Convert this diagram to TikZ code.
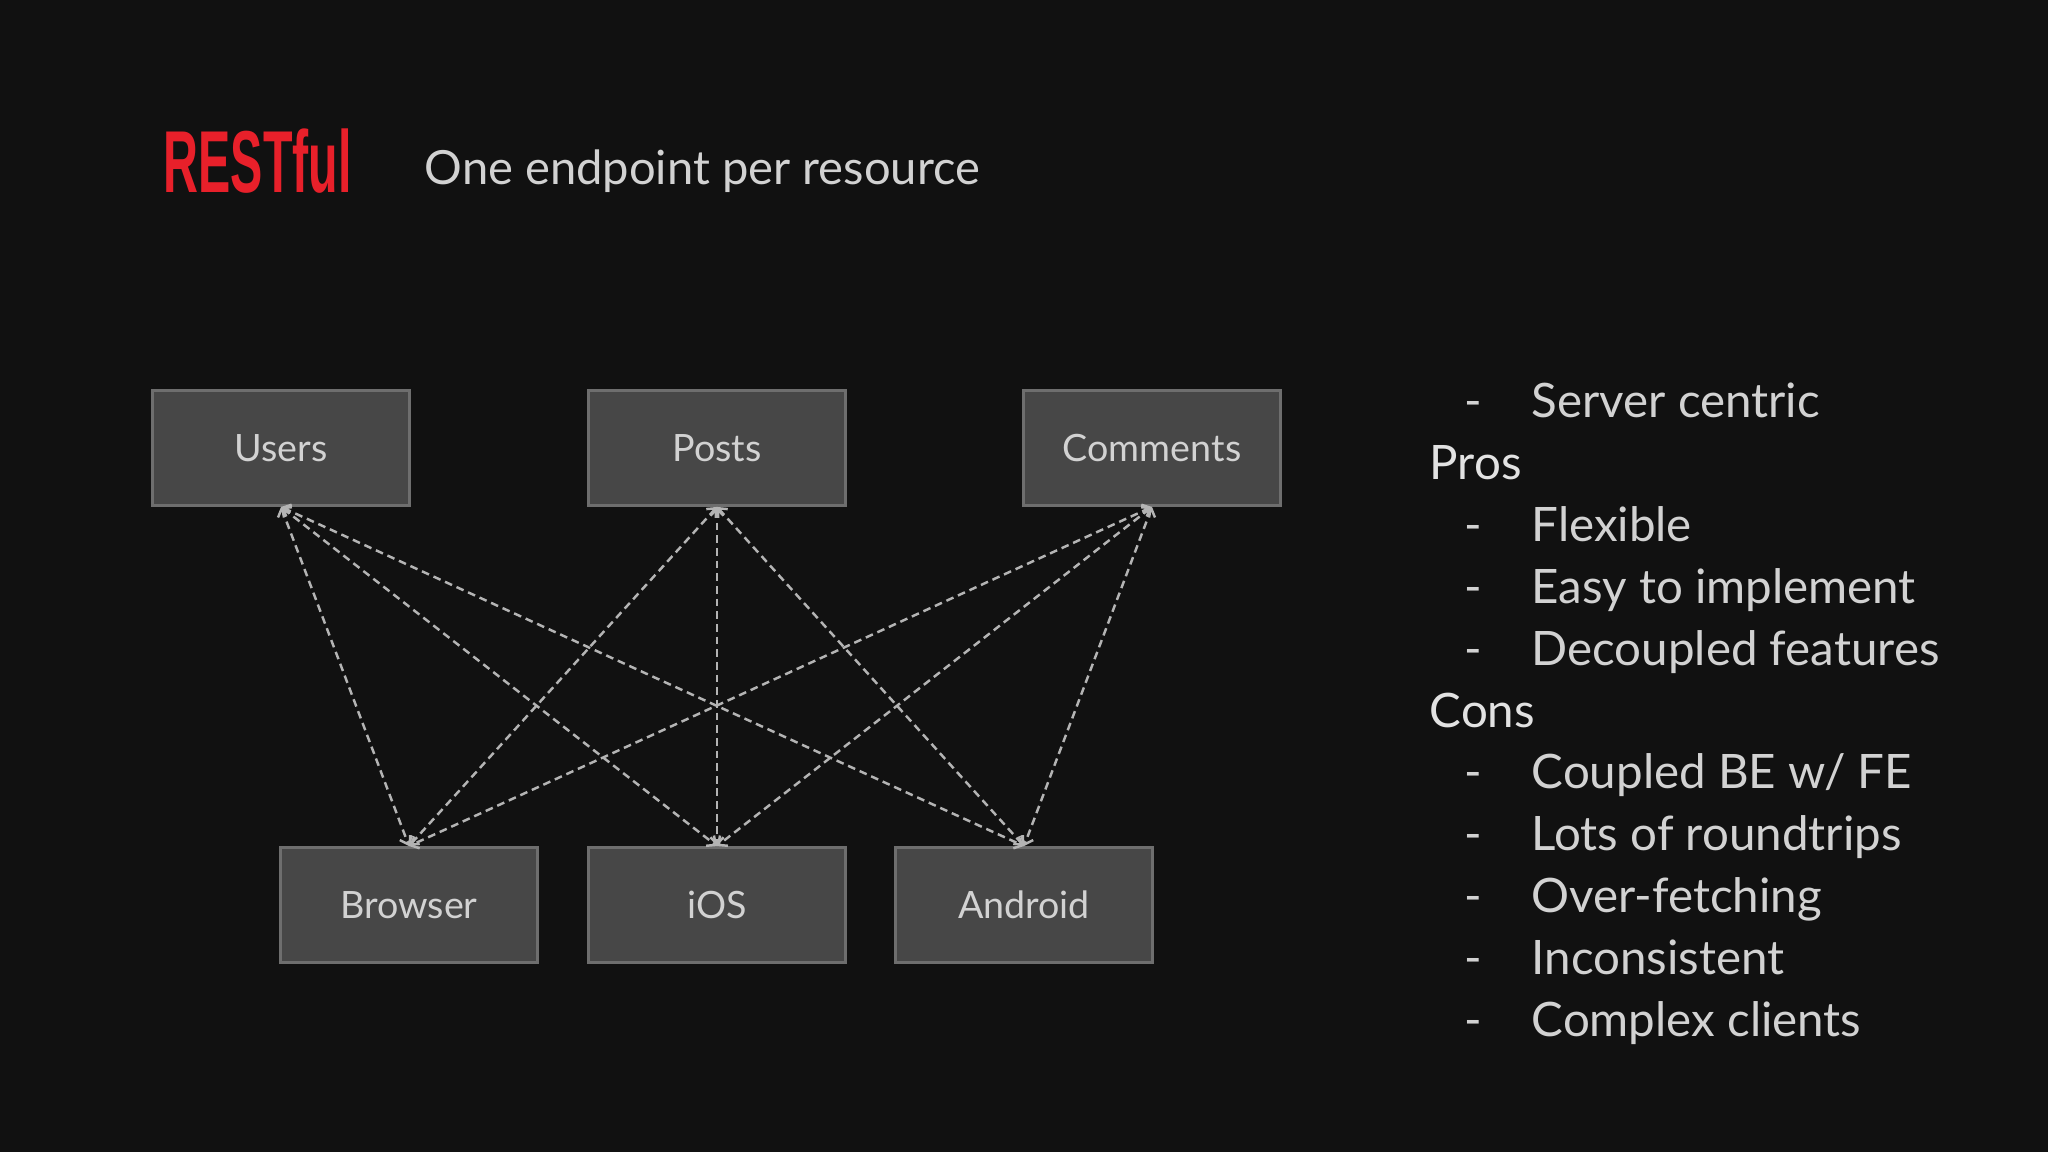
\documentclass[tikz,border=0pt]{standalone}
\usepackage{fontspec}
\setmainfont{Lato}
\newfontfamily\headfont{Liberation Sans}
\usetikzlibrary{arrows.meta}

\definecolor{bgdark}{HTML}{111111}
\definecolor{boxfill}{HTML}{474747}
\definecolor{boxline}{HTML}{6E6E6E}
\definecolor{linkgray}{HTML}{B4B4B4}
\definecolor{restred}{HTML}{E8202A}
\definecolor{softgray}{HTML}{D2D2D2}
\definecolor{headgray}{HTML}{E2E2E2}

\begin{document}
\begin{tikzpicture}
[
	x=0.01cm, y=-0.01cm,
	box/.style={draw=boxline,fill=boxfill,line width=0.8pt,inner sep=0pt,minimum width=2.57cm,minimum height=1.15cm,text=softgray,font=\fontsize{10.7}{12}\selectfont},
	link/.style={draw=linkgray,line width=0.7pt,dash pattern=on 2.2pt off 1.4pt,{Straight Barb[length=0.7mm,width=1.3mm]}-{Straight Barb[length=0.7mm,width=1.3mm]}},
	itemtxt/.style={anchor=base west,text=softgray,inner sep=0pt,font=\fontsize{13.5}{16}\selectfont}
]

	% background
	\fill[bgdark] (0,0) rectangle (2048,1152);
	\useasboundingbox (0,0) rectangle (2048,1152);

	% title
	\node[anchor=base west,inner sep=0pt,text=restred] (title) at (163,193)
		{\scalebox{0.55}[1]{\headfont\bfseries\fontsize{25}{25}\selectfont RESTful}};
	\node[anchor=base west,inner sep=0pt,text=softgray,font=\fontsize{13.4}{16}\selectfont] (sub) at (424,185) {One endpoint per resource};

	% resources
	\node[box] (users) at (281,448) {Users};
	\node[box] (posts) at (717,448) {Posts};
	\node[box] (comments) at (1152,448) {Comments};

	% clients
	\node[box] (browser) at (409,905) {Browser};
	\node[box] (ios) at (717,905) {iOS};
	\node[box] (android) at (1024,905) {Android};

	% links
	\foreach \r in {users,posts,comments}
		\foreach \c in {browser,ios,android}
			\draw[link] (\r.south) -- (\c.north);

	% pros and cons
	\foreach \y/\t [count=\i] in {0/{Server centric},2/{Flexible},3/{Easy to implement},4/{Decoupled features},6/{Coupled BE w/ FE},7/{Lots of roundtrips},8/{Over-fetching},9/{Inconsistent},10/{Complex clients}}
	{
		\node[itemtxt] (dash\i) at (1464,418+61.8*\y) {-};
		\node[itemtxt] (item\i) at (1531,418+61.8*\y) {\t};
	}
	\node[itemtxt,text=headgray] (pros) at (1429,418+61.8) {Pros};
	\node[itemtxt,text=headgray] (cons) at (1429,418+61.8*5) {Cons};

\end{tikzpicture}
\end{document}
